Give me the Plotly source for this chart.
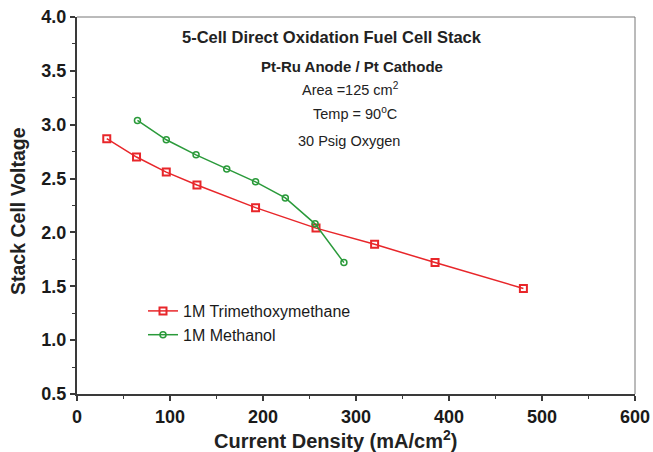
import plotly.graph_objects as go

# Data
tmm_x = [32, 64, 96, 129, 192, 257, 320, 385, 480]
tmm_y = [2.87, 2.70, 2.56, 2.44, 2.23, 2.04, 1.89, 1.72, 1.48]
meoh_x = [65, 96, 128, 161, 192, 224, 256, 287]
meoh_y = [3.04, 2.86, 2.72, 2.59, 2.47, 2.32, 2.08, 1.72]

series_names = ["1M Trimethoxymethane", "1M Methanol"]
x_ticks = [0, 100, 200, 300, 400, 500, 600]
y_ticks = [0.5, 1.0, 1.5, 2.0, 2.5, 3.0, 3.5, 4.0]

FONT = "Liberation Sans, Arial, sans-serif"

fig = go.Figure()
fig.add_trace(go.Scatter(
    x=tmm_x, y=tmm_y, name=series_names[0], mode="lines+markers",
    line=dict(color="#e8262a", width=1.5),
    marker=dict(symbol="square-open", size=7, color="#e8262a", line=dict(width=2)),
))
fig.add_trace(go.Scatter(
    x=meoh_x, y=meoh_y, name=series_names[1], mode="lines+markers",
    line=dict(color="#2a9a3a", width=1.5),
    marker=dict(symbol="circle-open", size=6, color="#2a9a3a", line=dict(width=1.5)),
))

axis_common = dict(
    showline=True, linecolor="#3a3a3a", linewidth=2, mirror=False,
    ticks="outside", ticklen=5, tickwidth=1.5, tickcolor="#3a3a3a",
    showgrid=False, zeroline=False, automargin=False,
    tickfont=dict(family=FONT, size=18, color="#1a1a1a", weight="bold"),
)

fig.update_xaxes(
    range=[0, 600], tickvals=x_ticks, ticktext=[str(v) for v in x_ticks],
    minor=dict(dtick=50, ticks="outside", ticklen=3, tickcolor="#3a3a3a", tickwidth=1),
    **axis_common,
)
fig.update_yaxes(
    range=[0.5, 4.0], tickvals=y_ticks, ticktext=[f"{v:.1f}" for v in y_ticks],
    minor=dict(dtick=0.25, ticks="outside", ticklen=3, tickcolor="#3a3a3a", tickwidth=1),
    **axis_common,
)

# top and right frame lines (thin gray)
fig.add_shape(type="line", xref="paper", yref="paper", x0=0, x1=1, y0=1, y1=1,
              line=dict(color="#777", width=1))
fig.add_shape(type="line", xref="paper", yref="paper", x0=1, x1=1, y0=0, y1=1,
              line=dict(color="#777", width=1))

L, R, T, B = 77, 18, 17, 58
W, H = 653, 452
pw, ph = W - L - R, H - T - B

def px2paper(px, py):
    return (px - L) / pw, 1 - (py - T) / ph

notes = [
    ("<b>5-Cell Direct Oxidation Fuel Cell Stack</b>", 332, 37, 16.5, 0),
    ("<b>Pt-Ru Anode / Pt Cathode</b>", 352, 66, 15, 0),
    ("Area =125 cm<sup>2</sup>", 350, 89, 14.5, 0),
    ("Temp = 90<sup>o</sup>C", 355, 113, 14.5, 0),
    ("30 Psig Oxygen", 349, 141, 14.5, 0),
    ("<b>Current Density (mA/cm<sup>2</sup>)</b>", 335, 439, 20, 0),
    ("<b>Stack Cell Voltage</b>", 18, 211, 19.5, -90),
]
for text, px, py, size, ang in notes:
    xp, yp = px2paper(px, py)
    fig.add_annotation(
        text=text, xref="paper", yref="paper", x=xp, y=yp,
        showarrow=False, xanchor="center", yanchor="middle", textangle=ang,
        font=dict(family=FONT, size=size, color="#222"),
    )

lx, ly = px2paper(143, 294)
fig.update_layout(
    width=W, height=H,
    margin=dict(l=L, r=R, t=T, b=B, autoexpand=False),
    paper_bgcolor="white", plot_bgcolor="white",
    showlegend=True,
    legend=dict(
        x=lx, y=ly, xanchor="left", yanchor="top",
        bgcolor="rgba(0,0,0,0)", borderwidth=0,
        font=dict(family=FONT, size=16, color="#1a1a1a"),
    ),
)

fig.write_html("out.html")
